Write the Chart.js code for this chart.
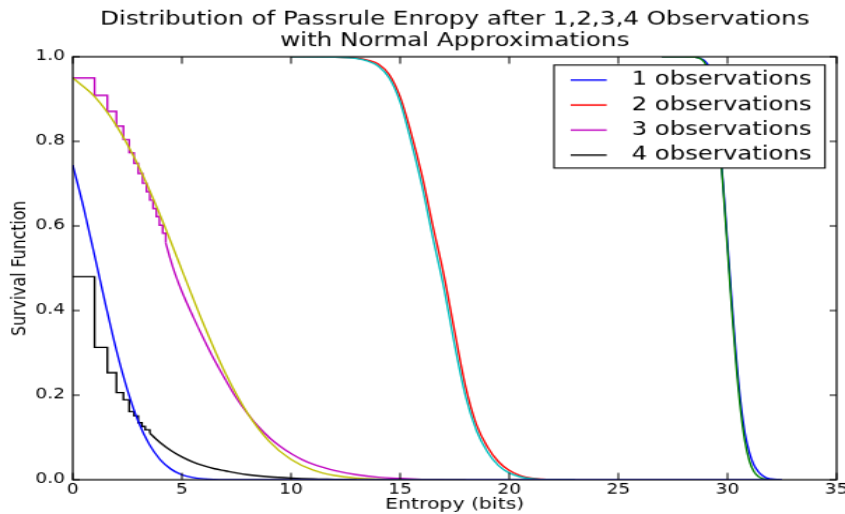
<!DOCTYPE html>
<html><head><meta charset="utf-8">
<script src="https://cdn.jsdelivr.net/npm/chart.js@4.4.1/dist/chart.umd.min.js"></script>
<style>html,body{margin:0;padding:0;background:#fff;overflow:hidden}canvas{display:block}</style>
</head><body>
<canvas id="c" width="604" height="480" style="width:845px;height:514px"></canvas>
<script>
// ---- text ----
const titleLines = ['Distribution of Passrule Enropy after 1,2,3,4 Observations', 'with Normal Approximations'];
const xTitle = 'Entropy (bits)';
const yTitle = 'Survival Function';
const legendLabels = ['1 observations', '2 observations', '3 observations', '4 observations'];
const yTickLabels = ['0.0', '0.2', '0.4', '0.6', '0.8', '1.0'];

// ---- series ----
const obs1X = [27, 28, 28.5, 28.8, 29.0, 29.2, 29.4, 29.6, 29.8, 30.0, 30.2, 30.4, 30.6, 30.8, 31.0, 31.2, 31.4, 31.6, 31.8, 32.0, 32.4];
const obs1Y = [1.0, 1.0, 0.999, 0.995, 0.988, 0.97, 0.91, 0.81, 0.70, 0.56, 0.42, 0.29, 0.185, 0.11, 0.065, 0.036, 0.02, 0.01, 0.004, 0.002, 0.0];
const norm1X = [27, 28, 28.5, 28.8, 29.0, 29.2, 29.4, 29.6, 29.8, 30.0, 30.2, 30.4, 30.6, 30.8, 31.0, 31.2, 31.4, 31.6, 31.8, 32.0, 32.4];
const norm1Y = [1.0, 1.0, 0.999, 0.994, 0.982, 0.955, 0.90, 0.815, 0.69, 0.545, 0.40, 0.27, 0.165, 0.09, 0.045, 0.02, 0.008, 0.003, 0.001, 0.0, 0.0];

const obs2X = [10, 12, 13, 13.5, 14, 14.5, 15, 15.5, 16, 16.5, 17, 17.5, 18, 18.5, 19, 19.5, 20, 20.5, 21, 21.5, 22, 23];
const obs2Y = [1.0, 0.9995, 0.997, 0.992, 0.983, 0.958, 0.905, 0.82, 0.72, 0.6, 0.485, 0.35, 0.22, 0.13, 0.078, 0.043, 0.022, 0.01, 0.004, 0.0015, 0.0005, 0];
const norm2X = [10, 12, 13, 13.5, 14, 14.5, 15, 15.5, 16, 16.5, 17, 17.5, 18, 18.5, 19, 19.5, 20, 20.5, 21, 21.5, 22, 23];
const norm2Y = [1.0, 0.9995, 0.996, 0.99, 0.978, 0.95, 0.893, 0.80, 0.695, 0.572, 0.455, 0.318, 0.197, 0.116, 0.066, 0.034, 0.016, 0.007, 0.0025, 0.0008, 0.0002, 0];

const obs3StepX = [0, 1, 1.585, 2, 2.32, 2.585, 2.807, 3, 3.2, 3.38, 3.53, 3.68, 3.83, 3.97, 4.12, 4.26];
const obs3StepY = [0.95, 0.909, 0.871, 0.836, 0.804, 0.773, 0.748, 0.724, 0.701, 0.681, 0.661, 0.641, 0.622, 0.602, 0.583, 0.560];
const obs3TailX = [4.26, 4.45, 4.7, 5, 5.5, 6, 6.5, 7, 7.5, 8, 8.5, 9, 9.5, 10, 10.5, 11, 11.5, 12, 13, 14, 15, 16, 17];
const obs3TailY = [0.560, 0.525, 0.485, 0.445, 0.387, 0.333, 0.282, 0.236, 0.193, 0.157, 0.126, 0.100, 0.079, 0.062, 0.048, 0.037, 0.029, 0.022, 0.012, 0.006, 0.003, 0.001, 0];
const norm3X = [0, 1, 2, 3, 4, 5, 6, 7, 8, 9, 10, 11, 12, 13, 14, 15, 16, 18];
const norm3Y = [0.950, 0.906, 0.837, 0.743, 0.626, 0.496, 0.367, 0.251, 0.158, 0.091, 0.048, 0.023, 0.010, 0.004, 0.0014, 0.0004, 0.0001, 0];

const obs4StepX = [0, 1, 1.585, 2, 2.32, 2.585, 2.807, 3, 3.17, 3.32, 3.53];
const obs4StepY = [0.48, 0.313, 0.253, 0.206, 0.189, 0.161, 0.151, 0.135, 0.126, 0.118, 0.110];
const obs4TailX = [3.53, 4, 4.5, 5, 5.5, 6, 6.5, 7, 7.5, 8, 9, 10, 11, 12, 13];
const obs4TailY = [0.110, 0.088, 0.069, 0.054, 0.042, 0.033, 0.026, 0.021, 0.016, 0.012, 0.007, 0.004, 0.002, 0.001, 0];
const norm4X = [0, 0.5, 1, 1.5, 2, 2.5, 3, 3.5, 4, 4.5, 5, 5.5, 6, 6.5, 7, 8, 32.5];
const norm4Y = [0.744, 0.643, 0.530, 0.415, 0.306, 0.213, 0.138, 0.084, 0.048, 0.025, 0.012, 0.0055, 0.0023, 0.0009, 0.0003, 0, 0];

// ---- style ----
const FONT = '"DejaVu Sans", sans-serif';
const LW = 1.4;
const C = {b: '#0000ff', g: '#008000', r: '#ff0000', c: '#00bfbf', m: '#bf00bf', y: '#bfbf00', k: '#000000'};

const pts = (xs, ys) => xs.map((x, i) => ({x: x, y: ys[i]}));
function ds(label, xs, ys, color, order, stepped) {
  return {
    label: label, data: pts(xs, ys), borderColor: color, backgroundColor: color,
    borderWidth: LW, pointRadius: 0, pointHoverRadius: 0, fill: false, order: order, clip: 0,
    stepped: stepped ? 'before' : false, cubicInterpolationMode: stepped ? 'default' : 'monotone', tension: 0
  };
}

const datasets = [
  ds(legendLabels[0], obs1X, obs1Y, C.b, 8, false),
  ds('', norm1X, norm1Y, C.g, 7, false),
  ds(legendLabels[1], obs2X, obs2Y, C.r, 6, false),
  ds('', norm2X, norm2Y, C.c, 5, false),
  ds(legendLabels[2], obs3StepX, obs3StepY, C.m, 4, true),
  ds('', obs3TailX, obs3TailY, C.m, 4, false),
  ds('', norm3X, norm3Y, C.y, 3, false),
  ds(legendLabels[3], obs4StepX, obs4StepY, C.k, 2, true),
  ds('', obs4TailX, obs4TailY, C.k, 2, false),
  ds('', norm4X, norm4Y, C.b, 1, false)
];

const framePlugin = {
  id: 'mplFrame',
  afterLayout(chart) {
    const a = chart.chartArea;
    if (chart.titleBlock) { chart.titleBlock.left = a.left; chart.titleBlock.right = a.right; }
  },
  afterDatasetsDraw(chart) {
    const ctx = chart.ctx, a = chart.chartArea;
    ctx.save();
    ctx.strokeStyle = '#000';
    ctx.lineWidth = 1.2;
    ctx.strokeRect(a.left, a.top, a.right - a.left, a.bottom - a.top);
    ctx.lineWidth = 1;
    ctx.beginPath();
    const xs = chart.scales.x, ys = chart.scales.y;
    xs.ticks.forEach(t => {
      const p = xs.getPixelForValue(t.value);
      ctx.moveTo(p, a.bottom); ctx.lineTo(p, a.bottom - 6.5);
      ctx.moveTo(p, a.top); ctx.lineTo(p, a.top + 6.5);
    });
    ys.ticks.forEach(t => {
      const p = ys.getPixelForValue(t.value);
      ctx.moveTo(a.left, p); ctx.lineTo(a.left + 5, p);
      ctx.moveTo(a.right, p); ctx.lineTo(a.right - 5, p);
    });
    ctx.stroke();
    ctx.restore();
  },
  afterDraw(chart) {
    const ctx = chart.ctx, a = chart.chartArea;
    const L = a.right - 202, T = a.top + 7.7, W = 193.7, H = 96.2;
    ctx.save();
    ctx.fillStyle = '#fff';
    ctx.fillRect(L, T, W, H);
    ctx.strokeStyle = '#000';
    ctx.lineWidth = 1.1;
    ctx.strokeRect(L, T, W, H);
    const items = chart.data.datasets.filter(d => d.label);
    ctx.font = '17.4px ' + FONT;
    ctx.textBaseline = 'middle';
    ctx.textAlign = 'left';
    items.forEach((d, i) => {
      const y = T + 14 + i * 23.37;
      ctx.strokeStyle = d.borderColor;
      ctx.lineWidth = LW;
      ctx.beginPath(); ctx.moveTo(L + 11.9, y); ctx.lineTo(L + 37.6, y); ctx.stroke();
      ctx.fillStyle = '#000';
      ctx.fillText(d.label, L + 55.5, y);
    });
    ctx.restore();
  }
};

new Chart(document.getElementById('c'), {
  type: 'line',
  data: {datasets: datasets},
  plugins: [framePlugin],
  options: {
    responsive: false, animation: false, devicePixelRatio: 1,
    events: [],
    layout: {padding: {left: 0, right: 6, top: 0, bottom: 0}},
    plugins: {
      legend: {display: false},
      tooltip: {enabled: false},
      title: {
        display: true, text: titleLines, color: '#000',
        font: {family: FONT, size: 17.6, weight: 'normal', lineHeight: 20.2 / 17.6},
        padding: {top: 8.0, bottom: 4.6}
      }
    },
    scales: {
      x: {
        type: 'linear', min: 0, max: 35,
        afterFit(s) { s.height = 32; s.paddingLeft = 0; s.paddingRight = 0; },
        ticks: {stepSize: 5, autoSkip: false, maxRotation: 0, padding: 1.8, color: '#000',
                font: {family: FONT, size: 13.3}, callback: v => String(v)},
        grid: {display: false, drawTicks: false},
        border: {display: false},
        title: {display: true, text: xTitle, color: '#000', font: {family: FONT, size: 14.6}, padding: {top: 0, bottom: 0.4}}
      },
      y: {
        type: 'linear', min: 0, max: 1,
        afterFit(s) { s.width = 52; },
        ticks: {stepSize: 0.2, padding: 5.5, color: '#000', font: {family: FONT, size: 13.3},
                callback: v => yTickLabels[Math.round(v * 5)]},
        grid: {display: false, drawTicks: false},
        border: {display: false},
        title: {display: true, text: yTitle, color: '#000', font: {family: FONT, size: 14.7}, padding: {top: 4.9, bottom: 0}}
      }
    }
  }
});
</script>
</body></html>
